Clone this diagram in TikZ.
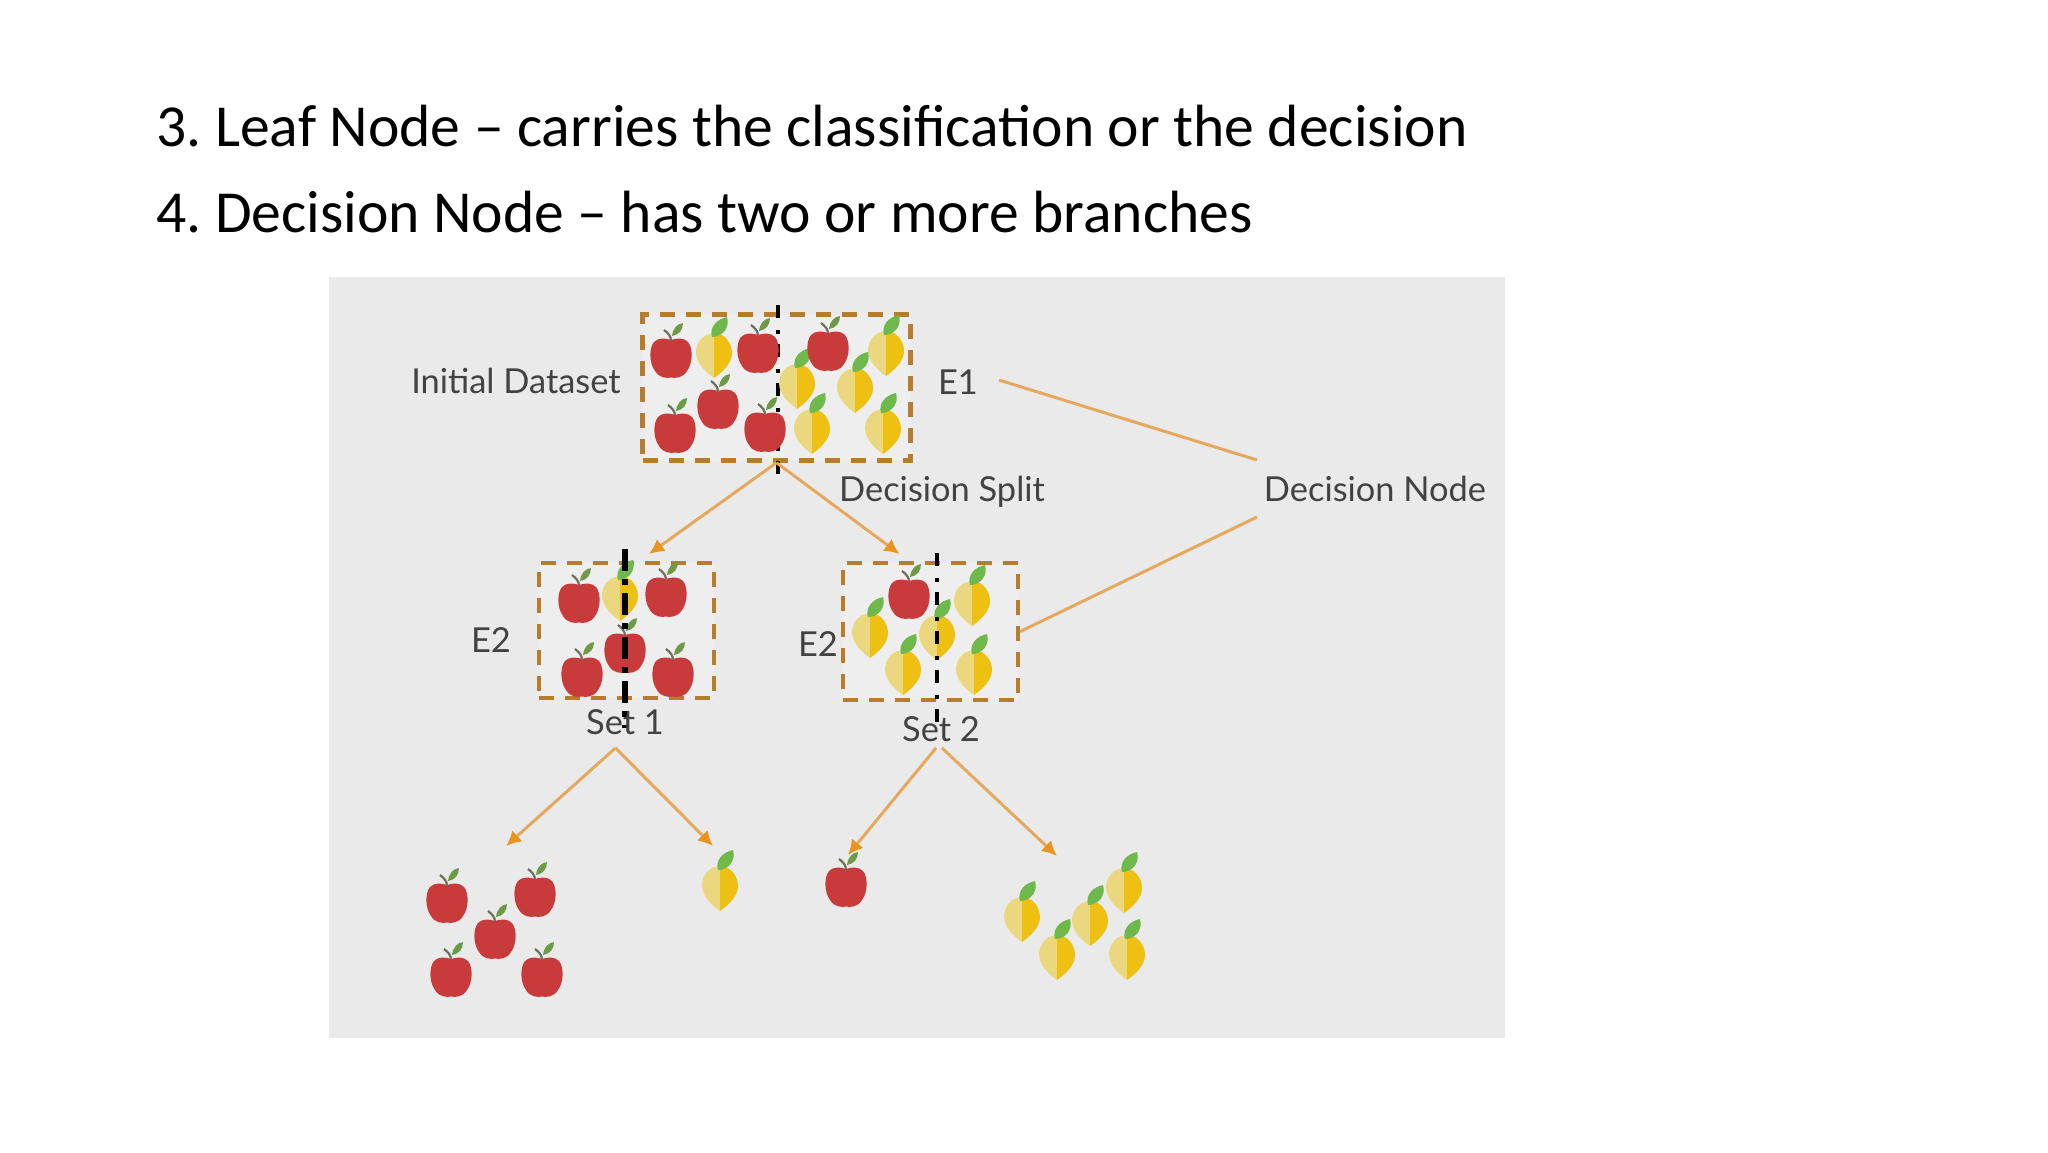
\documentclass[tikz,border=0pt]{standalone}
\usepackage{fontspec}
\usetikzlibrary{arrows.meta}
\setmainfont{Carlito}
\newfontfamily\lab{Lato}
\definecolor{panel}{HTML}{EAEAEA}
\definecolor{boxc}{HTML}{B77D2D}
\definecolor{linec}{HTML}{E4A95E}
\definecolor{tipc}{HTML}{E8941F}
\definecolor{applec}{HTML}{C93B3B}
\definecolor{mlight}{HTML}{EBD77E}
\definecolor{mdark}{HTML}{EDC012}
\definecolor{leafc}{HTML}{6FB84A}
\definecolor{leafd}{HTML}{6E9A48}
\definecolor{stemc}{HTML}{6E6E5A}
\definecolor{labc}{HTML}{424242}
\tikzset{
  x=0.5pt,y=-0.5pt,
  title/.style={anchor=base west,inner sep=0pt,font=\fontsize{29.8}{36}\selectfont,text=black},
  lbl/.style={inner sep=0pt,font=\lab\fontsize{17.2}{20}\selectfont,text=labc},
  dbox/.style={draw=boxc,line width=2.2pt,dash pattern=on 7.5pt off 5.5pt,fill=white!20!panel,minimum width=#1,inner sep=0pt},
  splitthin/.style={draw=black,line width=2pt,dash pattern=on 6.5pt off 6pt on 2pt off 5pt},
  splitthick/.style={draw=black,line width=3pt,dash pattern=on 11pt off 4pt on 3pt off 4pt},
  conn/.style={draw=linec,line width=1.5pt},
  arr/.style={conn,-{Latex[length=7.5pt,width=7.5pt,color=tipc]}},
  apple/.pic={
    \fill[applec] (0,-18) .. controls (-5,-20) and (-13,-20.5) .. (-17,-16)
      .. controls (-22,-10) and (-22,5) .. (-16,13)
      .. controls (-12,20) and (-4,20.5) .. (0,19.5)
      .. controls (4,20.5) and (12,20) .. (16,13)
      .. controls (22,5) and (22,-10) .. (17,-16)
      .. controls (13,-20.5) and (5,-20) .. (0,-18) -- cycle;
    \draw[stemc,line width=1.1pt] (0,-17) .. controls (0,-22) and (-3,-25) .. (-7,-28);
    \fill[leafd] (1,-22) .. controls (2,-30) and (6,-34) .. (12,-35)
      .. controls (12,-28) and (8,-23) .. (1,-22) -- cycle;
  },
  mango/.pic={
    \fill[mlight] (0,-21) .. controls (-10,-23) and (-18,-12) .. (-18,-3)
      .. controls (-18,9) and (-7,18) .. (0,23) -- cycle;
    \fill[mdark] (0,-21) .. controls (10,-23) and (18,-12) .. (18,-2)
      .. controls (18,9) and (7,18) .. (0,23) -- cycle;
    \fill[leafc] (-2,-18) .. controls (-5,-28) and (3,-36) .. (13,-38)
      .. controls (16,-28) and (9,-18) .. (-2,-18) -- cycle;
  }
}
\frenchspacing
\begin{document}
\begin{tikzpicture}
\useasboundingbox (0,0) rectangle (2048,1152);
\fill[white] (0,0) rectangle (2048,1152);
\node[title] (t1) at (156,146) {3. Leaf Node – carries the classification or the decision};
\node[title] (t2) at (156,232) {4. Decision Node – has two or more branches};
\fill[panel] (329,277) rectangle (1505,1038);

% dashed boxes
\node[dbox=134pt,minimum height=73pt] (b1) at (776.5,387.5) {};
\node[dbox=87.5pt,minimum height=67.5pt] (b2) at (626.5,630.5) {};
\node[dbox=87.5pt,minimum height=68.5pt] (b3) at (930.5,631.5) {};

% split line of the first box
\coordinate (s1a) at (777.5,305);
\coordinate (s1b) at (777.5,478);
\draw[splitthin] (s1a) -- (s1b);

% initial dataset
\pic at (671,358) {apple};
\pic at (758,353) {apple};
\pic at (718,409) {apple};
\pic at (675,433) {apple};
\pic at (765,432) {apple};
\pic at (714,355) {mango};
\pic at (886,353) {mango};
\pic at (797,386) {mango};
\pic at (855,390) {mango};
\pic at (812,431) {mango};
\pic at (883,431) {mango};
\pic at (828,351) {apple};

% set 1
\pic at (579,603) {apple};
\pic at (666,597) {apple};
\pic at (620,598) {mango};
\pic at (625,653) {apple};
\pic at (582,677) {apple};
\pic at (673,677) {apple};
\coordinate (s2a) at (625,549);
\coordinate (s2b) at (625,728);
\draw[splitthick] (s2a) -- (s2b);

% set 2
\pic at (972,603) {mango};
\pic at (870,635) {mango};
\pic at (937,637) {mango};
\pic at (903,672) {mango};
\pic at (974,672) {mango};
\pic at (909,599) {apple};
\coordinate (s3a) at (937,553);
\coordinate (s3b) at (937,725);
\draw[splitthin] (s3a) -- (s3b);

% leaves
\pic at (447,903) {apple};
\pic at (535,897) {apple};
\pic at (495,939) {apple};
\pic at (451,977) {apple};
\pic at (542,977) {apple};
\pic at (720,888) {mango};
\pic at (846,887) {apple};
\pic at (1022,919) {mango};
\pic at (1057,957) {mango};
\pic at (1090,923) {mango};
\pic at (1124,890) {mango};
\pic at (1127,957) {mango};

% labels
\node[lbl] (lid) at (516,381) {Initial Dataset};
\node[lbl] (le1) at (958,382) {E1};
\node[lbl] (lds) at (942,492) {Decision Split};
\node[lbl] (ldn) at (1375,489) {Decision Node};
\node[lbl] (le2a) at (491,640) {E2};
\node[lbl] (le2b) at (818,644) {E2};
\node[lbl] (ls1) at (625,722) {Set 1};
\node[lbl] (ls2) at (941,729) {Set 2};

% free ends
\coordinate (ta) at (649,554);
\coordinate (tb) at (899.5,554);
\coordinate (e1end) at (999,380);
\coordinate (dna) at (1257,460);
\coordinate (dnb) at (1257,517);
\coordinate (apex1) at (615.5,748);
\coordinate (apex2a) at (936,748);
\coordinate (apex2b) at (942,748);
\coordinate (la) at (506,846);
\coordinate (lb) at (713,846);
\coordinate (lc) at (848,855);
\coordinate (ld) at (1057,856);

% connectors
\draw[arr] (b1.south) -- (ta);
\draw[arr] (b1.south) -- (tb);
\draw[conn] (e1end) -- (dna);
\draw[conn] (b3.east) -- (dnb);
\draw[arr] (apex1) -- (la);
\draw[arr] (apex1) -- (lb);
\draw[arr] (apex2a) -- (lc);
\draw[arr] (apex2b) -- (ld);
\end{tikzpicture}
\end{document}
